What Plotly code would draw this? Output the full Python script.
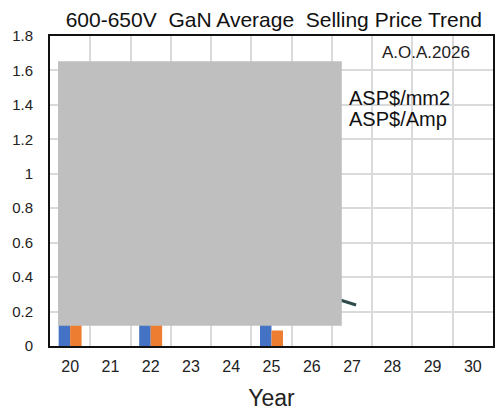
import plotly.graph_objects as go

years = [20, 21, 22, 23, 24, 25, 26, 27, 28, 29, 30]
bar_years = [20, 22, 25]
asp_mm2 = [1.05, 0.72, 0.32]
asp_amp = [0.58, 0.38, 0.09]
line_years = [20, 22, 25, 27.1]
line_vals = [1.25, 0.85, 0.392, 0.238]

FONT = "Arial, Liberation Sans, sans-serif"
BW = 0.285

fig = go.Figure()
fig.add_trace(go.Bar(x=bar_years, y=asp_mm2, name="ASP$/mm2", marker_color="#4472C4",
                     marker_line_width=0, width=BW, offset=-BW))
fig.add_trace(go.Bar(x=bar_years, y=asp_amp, name="ASP$/Amp", marker_color="#ED7D31",
                     marker_line_width=0, width=BW, offset=0))
fig.add_trace(go.Scatter(x=line_years, y=line_vals, mode="lines",
                         line=dict(color="#2E4B4B", width=3), showlegend=False))

# gray overlay box
fig.add_shape(type="rect", xref="x", yref="y", x0=19.7, x1=26.745, y0=0.117, y1=1.654,
              fillcolor="#BFBFBF", line_width=0, layer="above")

fig.add_annotation(text="A.O.A.2026", xref="paper", yref="paper", x=0.849, y=0.948,
                   xanchor="center", yanchor="middle", showarrow=False,
                   font=dict(family=FONT, size=17, color="#222"))
fig.add_annotation(text="ASP$/mm2", xref="paper", yref="paper", x=0.67, y=0.80,
                   xanchor="left", yanchor="middle", showarrow=False,
                   font=dict(family=FONT, size=20, color="#111"))
fig.add_annotation(text="ASP$/Amp", xref="paper", yref="paper", x=0.67, y=0.732,
                   xanchor="left", yanchor="middle", showarrow=False,
                   font=dict(family=FONT, size=20, color="#111"))

# the page body adds an 8px offset; size the figure so it fills the 504x411 window
fig.update_layout(
    width=496, height=403,
    margin=dict(l=42, r=11, t=28, b=65),
    paper_bgcolor="white", plot_bgcolor="white",
    barmode="overlay",
    showlegend=False,
    title=dict(text="600-650V  GaN Average  Selling Price Trend", x=0.536, xanchor="center",
               y=1 - 12 / 403, yanchor="middle", yref="container",
               font=dict(family=FONT, size=21, color="#111")),
    font=dict(family=FONT, color="#222"),
)
fig.update_xaxes(
    range=[19.5, 30.5], tickvals=years, ticktext=[str(y) for y in years],
    showgrid=False, showline=True, linecolor="#111", linewidth=2, mirror=True,
    ticks="", ticklabelstandoff=5, tickfont=dict(size=16, color="#222"),
    minor=dict(showgrid=True, tick0=19.5, dtick=1, gridcolor="#DADADA", gridwidth=1.5),
    zeroline=False, automargin=False,
    title=dict(text="Year", standoff=20, font=dict(size=23, color="#222")),
)
fig.update_yaxes(
    range=[0, 1.8], dtick=0.2, tick0=0,
    showgrid=True, gridcolor="#DADADA", gridwidth=1.5,
    showline=True, linecolor="#111", linewidth=2, mirror=True,
    ticks="", ticklabelstandoff=12, tickfont=dict(size=15, color="#222"),
    zeroline=False, automargin=False,
)

fig.write_html("out.html")
